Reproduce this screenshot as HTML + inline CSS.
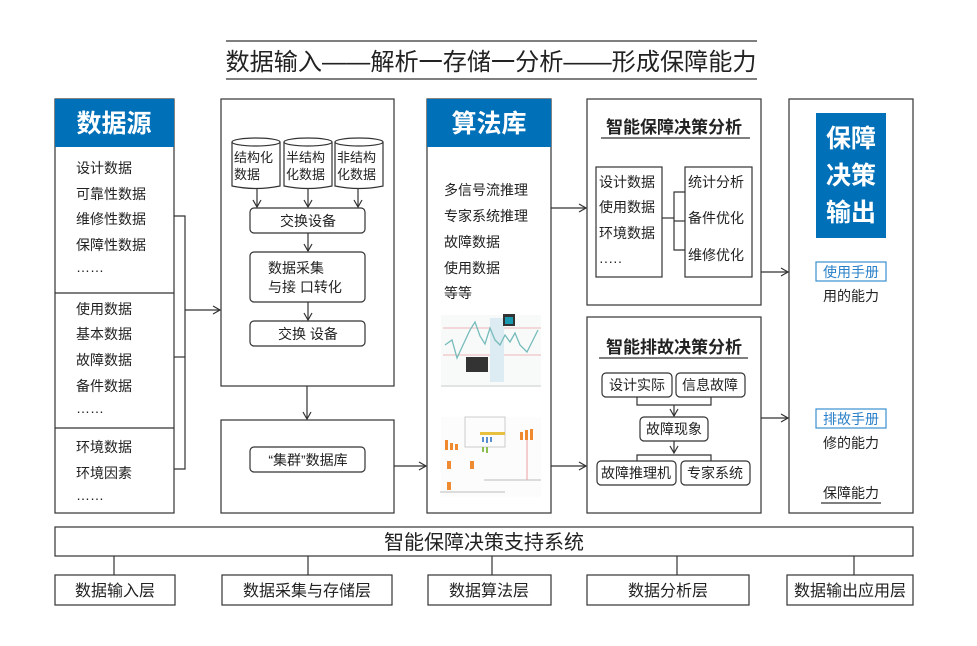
<!DOCTYPE html>
<html><head><meta charset="utf-8"><style>
body{margin:0;background:#fff;}
svg text{font-family:"Liberation Sans","Noto Sans CJK SC",sans-serif;fill:#222;}
</style></head><body>
<svg width="977" height="641" viewBox="0 0 977 641" xmlns="http://www.w3.org/2000/svg">
<defs><marker id="a" markerWidth="10" markerHeight="10" refX="8" refY="5" orient="auto" markerUnits="userSpaceOnUse"><path d="M1,1 L8,5 L1,9" fill="none" stroke="#333" stroke-width="1.2"/></marker></defs>
<g stroke="#333" stroke-width="1.2" fill="none">
<line x1="226" y1="41" x2="757" y2="41"/><line x1="226" y1="79" x2="757" y2="79"/>
<rect x="55" y="99" width="119" height="414" fill="#fff"/>
<line x1="55" y1="293" x2="174" y2="293"/><line x1="55" y1="428" x2="174" y2="428"/>
<polyline points="174,216 185,216 185,469 174,469"/><line x1="174" y1="357" x2="185" y2="357"/>
<line x1="185" y1="310" x2="220" y2="310" marker-end="url(#a)"/>
<rect x="221" y="99" width="173" height="287"/>
<rect x="221" y="420" width="173" height="93"/>
<line x1="307" y1="386" x2="307" y2="419" marker-end="url(#a)"/>
<rect x="250" y="208" width="115" height="25" rx="4"/>
<rect x="250" y="252" width="115" height="50" rx="4"/>
<rect x="250" y="321" width="115" height="25" rx="4"/>
<rect x="250" y="447" width="115" height="25" rx="4"/>
<line x1="257" y1="188" x2="257" y2="207" marker-end="url(#a)"/>
<line x1="308" y1="188" x2="308" y2="207" marker-end="url(#a)"/>
<line x1="358" y1="188" x2="358" y2="207" marker-end="url(#a)"/>
<line x1="308" y1="233" x2="308" y2="251" marker-end="url(#a)"/>
<line x1="308" y1="302" x2="308" y2="320" marker-end="url(#a)"/>
<line x1="394" y1="466" x2="426" y2="466" marker-end="url(#a)"/>
<path d="M232,142 v44 q24,5 48,0 v-44" fill="#fff"/><ellipse cx="256" cy="142" rx="24" ry="4" fill="#fff"/>
<path d="M284,142 v44 q24,5 48,0 v-44" fill="#fff"/><ellipse cx="308" cy="142" rx="24" ry="4" fill="#fff"/>
<path d="M335,142 v44 q24,5 48,0 v-44" fill="#fff"/><ellipse cx="359" cy="142" rx="24" ry="4" fill="#fff"/>
<rect x="427" y="99" width="124" height="414"/>
<line x1="551" y1="208" x2="586" y2="208" marker-end="url(#a)"/>
<line x1="551" y1="466" x2="586" y2="466" marker-end="url(#a)"/>
<rect x="587" y="99" width="174" height="206"/>
<rect x="587" y="317" width="174" height="196"/>
<line x1="601" y1="138" x2="750" y2="138"/><line x1="599" y1="358" x2="748" y2="358"/>
<rect x="596" y="167" width="66" height="110"/><rect x="685" y="167" width="67" height="110"/>
<line x1="662" y1="218" x2="674" y2="218"/><polyline points="685,192 674,192 674,250 685,250"/><line x1="674" y1="221" x2="685" y2="221"/>
<rect x="602" y="373" width="70" height="24" rx="4"/><rect x="676" y="373" width="69" height="24" rx="4"/>
<polyline points="637,397 637,405 711,405 711,397"/><line x1="674" y1="405" x2="674" y2="416" marker-end="url(#a)"/>
<rect x="640" y="417" width="68" height="24" rx="4"/>
<line x1="674" y1="441" x2="674" y2="453" marker-end="url(#a)"/>
<polyline points="637,461 637,455 711,455 711,461"/>
<rect x="597" y="461" width="79" height="24" rx="4"/><rect x="681" y="461" width="69" height="24" rx="4"/>
<line x1="761" y1="272" x2="788" y2="272" marker-end="url(#a)"/>
<line x1="761" y1="418" x2="788" y2="418" marker-end="url(#a)"/>
<rect x="789" y="99" width="124" height="414"/>
<rect x="816" y="262" width="70" height="19" stroke="#3a8fd0"/>
<rect x="816" y="409" width="70" height="19" stroke="#3a8fd0"/>
<line x1="821" y1="503" x2="881" y2="503"/>
<rect x="55" y="527" width="858" height="29"/>
<rect x="55" y="575" width="120" height="30"/><rect x="222" y="575" width="170" height="30"/>
<rect x="428" y="575" width="123" height="30"/><rect x="587" y="575" width="162" height="30"/>
<rect x="787" y="575" width="126" height="30"/>
<line x1="114" y1="556" x2="114" y2="575"/><line x1="308" y1="556" x2="308" y2="575"/><line x1="492" y1="556" x2="492" y2="575"/><line x1="677" y1="556" x2="677" y2="575"/><line x1="854" y1="556" x2="854" y2="575"/>
</g>
<rect x="55" y="99" width="119" height="48" fill="#0070b8"/>
<rect x="427" y="99" width="124" height="48" fill="#0070b8"/>
<rect x="816" y="113" width="70" height="125" fill="#0070b8"/>
<g>
<rect x="441" y="315" width="100" height="72" fill="#f8fafa"/>
<line x1="443" y1="328" x2="541" y2="328" stroke="#e8a0a0" stroke-width="0.8"/>
<line x1="443" y1="355" x2="541" y2="355" stroke="#e8a0a0" stroke-width="0.8"/>
<rect x="490" y="318" width="14" height="64" fill="#dcecf2"/>
<polyline points="445,345 452,340 457,358 463,345 470,330 475,322 480,336 485,344 490,328 495,340 500,345 505,335 510,342 515,333 520,345 527,352 532,342 538,330" fill="none" stroke="#7bb" stroke-width="1.3"/>
<rect x="503" y="314" width="12" height="12" fill="#333"/><rect x="505" y="317" width="8" height="7" fill="#1a9ab0"/>
<rect x="466" y="357" width="22" height="15" fill="#333"/>
<line x1="441" y1="386" x2="541" y2="386" stroke="#ccc"/>
<rect x="441" y="417" width="100" height="80" fill="#fcfcfc"/>
<rect x="465" y="417" width="40" height="30" fill="none" stroke="#ccc"/>
<rect x="480" y="432" width="25" height="3" fill="#e8c040"/>
<g fill="#f08a30"><rect x="445" y="440" width="3" height="10"/><rect x="450" y="443" width="3" height="7"/><rect x="455" y="444" width="3" height="6"/><rect x="520" y="432" width="3" height="8"/><rect x="525" y="430" width="3" height="10"/><rect x="530" y="429" width="3" height="11"/><rect x="447" y="461" width="4" height="8"/><rect x="470" y="461" width="4" height="8"/><rect x="447" y="482" width="4" height="8"/></g>
<g fill="#5a8fd0"><rect x="482" y="437" width="2" height="5"/><rect x="486" y="437" width="2" height="6"/><rect x="490" y="437" width="2" height="5"/></g>
<g fill="#8cbf50"><rect x="482" y="447" width="2" height="5"/><rect x="486" y="447" width="2" height="6"/></g>
<line x1="440" y1="492" x2="505" y2="492" stroke="#bbb"/><line x1="484" y1="480" x2="541" y2="480" stroke="#bbb"/>
<line x1="527" y1="440" x2="527" y2="480" stroke="#e8a0a0"/>
</g>
<text x="491" y="70" font-size="24" text-anchor="middle" textLength="531" lengthAdjust="spacingAndGlyphs">数据输入——解析一存储一分析——形成保障能力</text>
<g font-weight="bold">
<text x="114" y="132" font-size="25" text-anchor="middle" style="fill:#fff">数据源</text>
<text x="489" y="132" font-size="25" text-anchor="middle" style="fill:#fff">算法库</text>
<text x="851" y="147" font-size="25" text-anchor="middle" style="fill:#fff">保障</text>
<text x="851" y="184" font-size="25" text-anchor="middle" style="fill:#fff">决策</text>
<text x="851" y="221" font-size="25" text-anchor="middle" style="fill:#fff">输出</text>
</g>
<g font-size="14">
<text x="76" y="173">设计数据</text><text x="76" y="199">可靠性数据</text><text x="76" y="224">维修性数据</text><text x="76" y="250">保障性数据</text><text x="76" y="272">……</text>
<text x="76" y="314">使用数据</text><text x="76" y="339">基本数据</text><text x="76" y="365">故障数据</text><text x="76" y="391">备件数据</text><text x="76" y="413">……</text>
<text x="76" y="452">环境数据</text><text x="76" y="478">环境因素</text><text x="76" y="500">……</text>
<text x="234" y="162" font-size="13">结构化</text><text x="234" y="179" font-size="13">数据</text>
<text x="286" y="162" font-size="13">半结构</text><text x="286" y="179" font-size="13">化数据</text>
<text x="337" y="162" font-size="13">非结构</text><text x="337" y="179" font-size="13">化数据</text>
<text x="308" y="226" text-anchor="middle">交换设备</text>
<text x="268" y="273">数据采集</text><text x="268" y="292">与接 口转化</text>
<text x="308" y="339" text-anchor="middle">交换 设备</text>
<text x="308" y="465" text-anchor="middle">“集群”数据库</text>
<text x="444" y="195">多信号流推理</text><text x="444" y="221">专家系统推理</text><text x="444" y="247">故障数据</text><text x="444" y="273">使用数据</text><text x="444" y="298">等等</text>
<text x="599" y="187">设计数据</text><text x="599" y="212">使用数据</text><text x="599" y="238">环境数据</text><text x="599" y="266">·····</text>
<text x="688" y="187">统计分析</text><text x="688" y="223">备件优化</text><text x="688" y="260">维修优化</text>
<text x="637" y="390" text-anchor="middle">设计实际</text><text x="710" y="390" text-anchor="middle">信息故障</text>
<text x="674" y="434" text-anchor="middle">故障现象</text>
<text x="636" y="478" text-anchor="middle">故障推理机</text><text x="715" y="478" text-anchor="middle">专家系统</text>
<text x="851" y="277" text-anchor="middle" style="fill:#2a80c8">使用手册</text><text x="851" y="301" text-anchor="middle">用的能力</text>
<text x="851" y="424" text-anchor="middle" style="fill:#2a80c8">排故手册</text><text x="851" y="448" text-anchor="middle">修的能力</text>
<text x="851" y="498" text-anchor="middle">保障能力</text>
</g>
<g font-size="17" font-weight="bold">
<text x="674" y="133" text-anchor="middle">智能保障决策分析</text>
<text x="674" y="353" text-anchor="middle">智能排故决策分析</text>
</g>
<text x="484" y="549" font-size="20" text-anchor="middle">智能保障决策支持系统</text>
<g font-size="16" text-anchor="middle">
<text x="115" y="596">数据输入层</text><text x="307" y="596">数据采集与存储层</text><text x="489" y="596">数据算法层</text><text x="668" y="596">数据分析层</text><text x="850" y="596">数据输出应用层</text>
</g>
</svg>
</body></html>
